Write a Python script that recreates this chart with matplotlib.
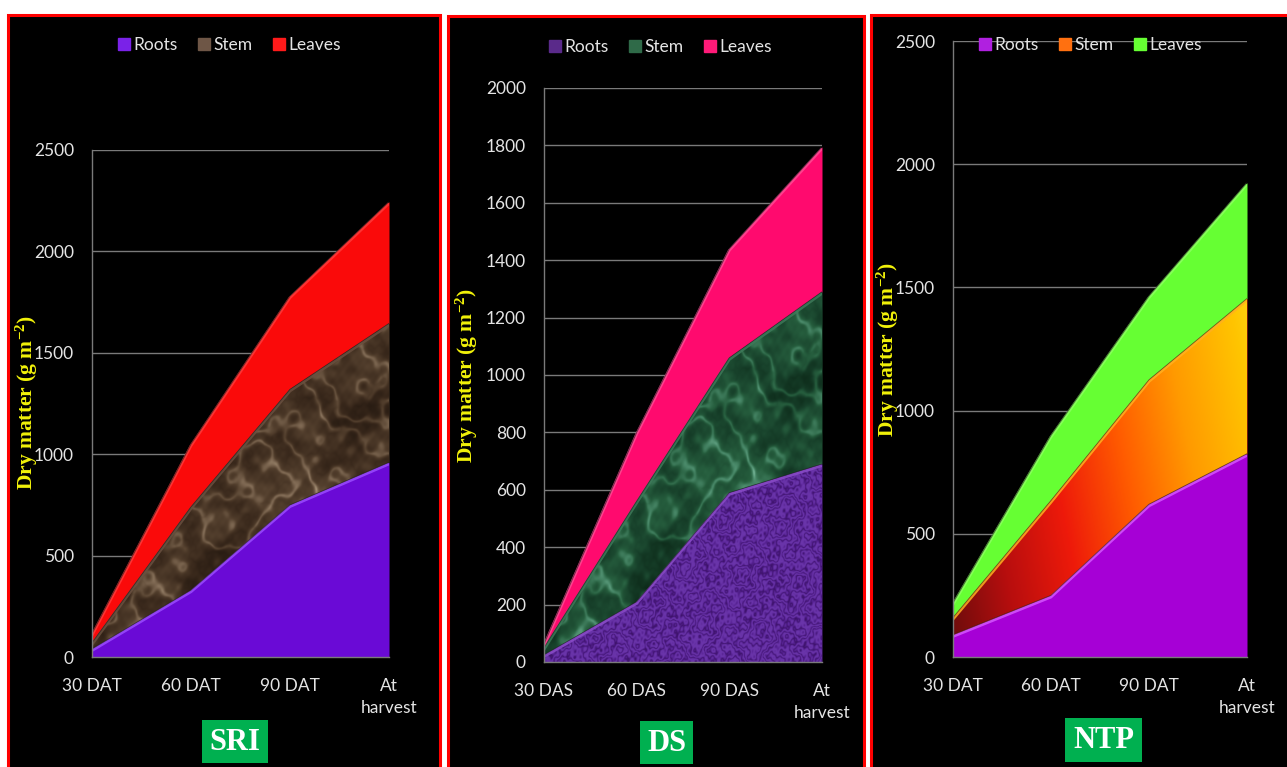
import numpy as np
import matplotlib
matplotlib.use("Agg")
import matplotlib.pyplot as plt
from matplotlib.patches import Rectangle
from matplotlib.lines import Line2D
from matplotlib.colors import LinearSegmentedColormap
import matplotlib.transforms as mtransforms

W, H = 1287, 767

# ---- data (g m-2) ----
components = ["Roots", "Stem", "Leaves"]
stages_tp = ["30 DAT", "60 DAT", "90 DAT", "At\nharvest"]
stages_ds = ["30 DAS", "60 DAS", "90 DAS", "At\nharvest"]

sri_roots = [40, 330, 750, 960]
sri_stem = [30, 410, 570, 685]
sri_leaves = [45, 310, 460, 600]

ds_roots = [25, 210, 590, 690]
ds_stem = [25, 350, 470, 600]
ds_leaves = [13, 240, 380, 505]

ntp_roots = [90, 250, 620, 825]
ntp_stem = [70, 385, 505, 630]
ntp_leaves = [60, 265, 340, 470]

TICK_COLOR = "#e4e4e4"
GRID_COLOR = "#7a7a7a"
FONT = ["Lato", "DejaVu Sans"]
SERIF = ["Liberation Serif", "DejaVu Serif"]

plt.rcParams["font.family"] = FONT
plt.rcParams["mathtext.fontset"] = "custom"
plt.rcParams["mathtext.rm"] = "Liberation Serif:bold"
plt.rcParams["mathtext.bf"] = "Liberation Serif:bold"
plt.rcParams["mathtext.default"] = "rm"

fig = plt.figure(figsize=(W / 100, H / 100), dpi=100, facecolor="white")


def fx(x):
    return x / W


def fy(y):
    return 1 - y / H


# fixed wave components (frequency, angle, phase, amplitude) for the fill textures
WAVES = [(2.1, 0.3, 0.0, 1.0), (3.7, 1.9, 1.1, 0.8), (5.3, 2.7, 2.3, 0.6),
         (8.9, 0.9, 0.7, 0.45), (13.1, 2.2, 1.9, 0.3), (19.7, 1.4, 2.9, 0.22),
         (29.3, 0.5, 0.4, 0.15), (43.1, 2.5, 1.6, 0.1)]


def turbulence(X, Y, scale=1.0):
    t = np.zeros_like(X)
    for f, a, p, amp in WAVES:
        f = f * scale
        t += amp * np.sin(f * (X * np.cos(a) + Y * np.sin(a)) + p)
    return t


def norm(a):
    return (a - a.min()) / np.ptp(a)


def pattern(kind, nx=420, ny=700):
    xs = np.linspace(0, 3, nx)
    ys = np.linspace(0, 5, ny)
    X, Y = np.meshgrid(xs, ys)
    if kind == "marble":
        t = turbulence(X, Y)
        v = np.sin(2.5 * X + 1.5 * Y + 2.2 * t)
        veins = np.exp(-(v / 0.5) ** 2)
        blot = norm(turbulence(X + 1.7, Y + 0.9, 1.6))
        fine = norm(np.abs(turbulence(X + 0.4, Y + 2.1, 2.6)))
        out = 0.3 * veins + 0.45 * blot + 0.25 * fine
    elif kind == "fine":
        t = turbulence(X, Y, 3.0)
        out = np.abs(np.sin(4 * t))
    else:
        return X / 3 * 0.85 + Y / 5 * 0.35
    return norm(out)


def texture(ax, poly, ymax, kind, colors):
    cmap = LinearSegmentedColormap.from_list("tex", colors)
    vals = pattern(kind)
    im = ax.imshow(vals, extent=[0, 3, 0, ymax], origin="lower", aspect="auto",
                   cmap=cmap, interpolation="bilinear", zorder=1.2)
    im.set_clip_path(poly.get_paths()[0], poly.get_transform())


def panel(box_x0, box_x1, box_y0, ax_px, ymax, ystep, stages, layers, styles,
          legend_xy, ylabel_xy, tag, tag_box):
    # black panel with red frame
    fig.patches.append(Rectangle((fx(box_x0), fy(H + 20)), fx(box_x1 - box_x0),
                                 (H + 20 - box_y0) / H,
                                 transform=fig.transFigure, facecolor="black",
                                 edgecolor="#ff0000", linewidth=2.2, zorder=-5))
    l, r, t, b = ax_px
    ax = fig.add_axes([fx(l), fy(b), fx(r - l), (b - t) / H])
    ax.set_facecolor("none")
    x = np.arange(len(stages))
    base = np.zeros(len(stages))
    for vals, st in zip(layers, styles):
        top = base + np.array(vals, dtype=float)
        poly = ax.fill_between(x, base, top, color=st["color"], lw=0, zorder=1)
        if st.get("texture"):
            texture(ax, poly, ymax, st["texture"], st["tex_colors"])
        shift = mtransforms.offset_copy(ax.transData, fig=fig, y=-1.2, units="points")
        ax.plot(x, top, color=st["hi"], lw=2.0, transform=shift, zorder=1.5,
                solid_capstyle="butt", alpha=0.85)
        ax.plot(x, top, color="#1a1a1a", lw=0.6, zorder=1.6, alpha=0.6)
        base = top
    ax.set_xlim(0, len(stages) - 1)
    ax.set_ylim(0, ymax)
    ax.set_yticks(np.arange(0, ymax + 1, ystep))
    ax.set_xticks(x)
    ax.set_xticklabels(stages, linespacing=1.5)
    ax.tick_params(axis="y", length=0, colors=TICK_COLOR, labelsize=12.5, pad=13)
    ax.tick_params(axis="x", length=0, colors=TICK_COLOR, labelsize=12.5, pad=15)
    ax.yaxis.grid(True, color=GRID_COLOR, lw=1.0, zorder=0.5)
    ax.set_axisbelow(True)
    for s in ("top", "right"):
        ax.spines[s].set_visible(False)
    for s in ("left", "bottom"):
        ax.spines[s].set_color(GRID_COLOR)
        ax.spines[s].set_linewidth(1.0)

    handles = [Line2D([], [], marker="s", ls="none", markersize=8,
                      markerfacecolor=st["legend"], markeredgecolor=st["legend"])
               for st in styles]
    fig.legend(handles, components, loc="center",
               bbox_to_anchor=(fx(legend_xy[0]), fy(legend_xy[1])), ncol=3,
               frameon=False, labelcolor=TICK_COLOR, fontsize=12.5,
               handletextpad=0.15, columnspacing=1.1, handlelength=0.8,
               borderpad=0)

    fig.text(fx(ylabel_xy[0]), fy(ylabel_xy[1]), r"Dry matter (g m$^{-2}$)",
             rotation=90, ha="center", va="center", color="#f2f20a",
             fontsize=15.5, fontweight="bold", family=SERIF)

    bx0, bx1, by0, by1 = tag_box
    fig.patches.append(Rectangle((fx(bx0), fy(by1)), fx(bx1 - bx0), (by1 - by0) / H,
                                 transform=fig.transFigure, facecolor="#00b050",
                                 edgecolor="none", zorder=1))
    fig.text(fx((bx0 + bx1) / 2), fy((by0 + by1) / 2 + 1), tag, ha="center",
             va="center", color="white", fontsize=22, fontweight="bold",
             family=SERIF)
    return ax


sri_styles = [
    dict(color="#6a0ad6", hi="#9a4cff", legend="#7a22e8"),
    dict(color="#4a3626", hi="#6a5040", legend="#6e5646", texture="marble",
         tex_colors=["#22170f", "#3a291c", "#54402e", "#806a54", "#b8a488"]),
    dict(color="#fa0a0a", hi="#ff3a3a", legend="#ff1a1a"),
]
ds_styles = [
    dict(color="#55208e", hi="#8a4cc8", legend="#5a2a8a", texture="fine",
         tex_colors=["#3c1168", "#4e1d86", "#5b2698", "#6a35aa"]),
    dict(color="#1f5034", hi="#3e7a5a", legend="#2f6a48", texture="marble",
         tex_colors=["#0b2616", "#17402a", "#265e3e", "#4a8a6a", "#8ccaae"]),
    dict(color="#ff0a6e", hi="#ff4a94", legend="#ff1a78"),
]
ntp_styles = [
    dict(color="#a600d6", hi="#d455ff", legend="#b020e0"),
    dict(color="#e83010", hi="#ffb020", legend="#ff7010", texture="grad",
         tex_colors=["#6a0c0c", "#b80e0e", "#ee1a0a", "#ff5a00", "#ff9a00",
                     "#ffc400", "#fff030"]),
    dict(color="#66ff33", hi="#8cff60", legend="#66ff33"),
]

panel(8, 440, 15, (92, 389, 150, 657), 2500, 500, stages_tp,
      [sri_roots, sri_stem, sri_leaves], sri_styles,
      (229, 45), (27, 403), "SRI", (202, 268, 720, 763))

panel(448, 864, 16, (544, 822, 88, 662), 2000, 200, stages_ds,
      [ds_roots, ds_stem, ds_leaves], ds_styles,
      (660, 47), (467, 376), "DS", (640, 693, 721, 764))

panel(871, 1300, 15, (953, 1247, 41, 657), 2500, 500, stages_tp,
      [ntp_roots, ntp_stem, ntp_leaves], ntp_styles,
      (1090, 45), (888, 350), "NTP", (1065, 1142, 718, 762))

fig.savefig("out.png", dpi=100, facecolor="white")
